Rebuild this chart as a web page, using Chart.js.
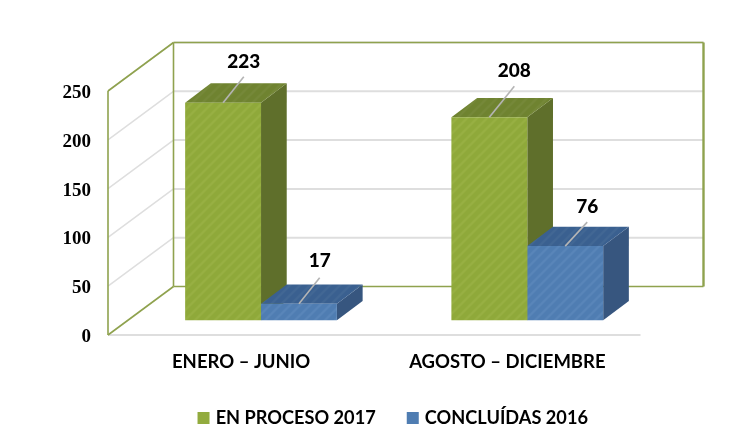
<!DOCTYPE html>
<html><head><meta charset="utf-8">
<style>html,body{margin:0;padding:0;background:#fff}#w{width:750px;height:448px;position:relative}canvas{filter:blur(0.3px)}</style>
<script src="https://cdn.jsdelivr.net/npm/chart.js@4"></script>
</head><body><div id="w"><canvas id="c" width="750" height="448"></canvas></div>
<script>
const categories = ['ENERO – JUNIO', 'AGOSTO – DICIEMBRE'];
const seriesNames = ['EN PROCESO 2017', 'CONCLUÍDAS 2016'];
const enProceso = [223, 208];
const concluidas = [17, 76];
const yMax = 250;
const yStep = 50;

const WALL = {dx: 65.5, dy: 48.5, rightTrim: 2.5};
const SHIFT = {dx: 19.9, dy: 14.7};
const DEPTH = {dx: 25.7, dy: 19.3};
const WALL_COLOR = '#8FA24E', GRID_COLOR = '#DEDEDE';
const PALETTE = [
  {front: '#8FA93A', stripe: '#98B044', side: '#5F6F2B', top: '#6F8330', topStripe: '#76893A', swatch: '#92AB3E'},
  {front: '#4F7DB2', stripe: '#5A86B9', side: '#37567F', top: '#3A6090', topStripe: '#436895', swatch: '#4F7DB2'}
];
const LEADERS = [
  [{dx: 20.7, dy: -26, ty: -40.6}, {dx: 20.7, dy: -26, ty: -42.5}],
  [{dx: 25, dy: -31, ty: -46}, {dx: 22, dy: -24, ty: -39}]
];

function stripes(base, line) {
  const t = document.createElement('canvas');
  t.width = t.height = 10;
  const g = t.getContext('2d');
  g.fillStyle = base; g.fillRect(0, 0, 10, 10);
  g.strokeStyle = line; g.lineWidth = 2.6;
  [[-2, 2, 2, -2], [-2, 12, 12, -2], [8, 12, 12, 8]].forEach(p => {
    g.beginPath(); g.moveTo(p[0], p[1]); g.lineTo(p[2], p[3]); g.stroke();
  });
  return document.getElementById('c').getContext('2d').createPattern(t, 'repeat');
}
function poly(ctx, pts, fill) {
  ctx.beginPath();
  pts.forEach((p, i) => i ? ctx.lineTo(p[0], p[1]) : ctx.moveTo(p[0], p[1]));
  ctx.closePath();
  ctx.fillStyle = fill; ctx.fill();
}
function seg(ctx, x1, y1, x2, y2, color, w) {
  ctx.beginPath(); ctx.moveTo(x1, y1); ctx.lineTo(x2, y2);
  ctx.strokeStyle = color; ctx.lineWidth = w; ctx.stroke();
}

const chart3d = {
  id: 'chart3d',
  afterLayout(chart) {
    const l = chart.legend;
    const sx = 74;
    l.left += sx; l.right += sx;
    const dy = 406 - (l.top + l.height / 2);
    l.top += dy; l.bottom += dy;
  },
  beforeDraw(chart) {
    chart.scales.y.getLabelItems(chart.chartArea).forEach(it => { it.textOffset += 2; });
  },
  beforeDatasetsDraw(chart) {
    const {ctx, chartArea: a, scales: {y}} = chart;
    const xr = a.right + WALL.dx - WALL.rightTrim, xb = a.left + WALL.dx;
    ctx.save();
    y.ticks.forEach(t => {
      if (t.value === 0) return;
      const py = y.getPixelForValue(t.value);
      seg(ctx, a.left, py, xb, py - WALL.dy, GRID_COLOR, 1.5);
      seg(ctx, xb, py - WALL.dy, xr, py - WALL.dy, GRID_COLOR, 2);
    });
    seg(ctx, a.left, a.bottom, a.right, a.bottom, GRID_COLOR, 2);
    seg(ctx, a.left, a.top, a.left, a.bottom, WALL_COLOR, 1.6);
    seg(ctx, a.left, a.top, xb, a.top - WALL.dy, WALL_COLOR, 1.6);
    seg(ctx, a.left, a.bottom, xb, a.bottom - WALL.dy, WALL_COLOR, 1.6);
    seg(ctx, xb, a.top - WALL.dy, xb, a.bottom - WALL.dy, WALL_COLOR, 1.6);
    seg(ctx, xb, a.top - WALL.dy, xr, a.top - WALL.dy, WALL_COLOR, 1.4);
    seg(ctx, xb, a.bottom - WALL.dy, xr, a.bottom - WALL.dy, WALL_COLOR, 1.6);
    seg(ctx, xr, a.top - WALL.dy, xr, a.bottom - WALL.dy, WALL_COLOR, 2.4);
    ctx.translate(SHIFT.dx, -SHIFT.dy);
    chart.data.datasets.forEach((ds, di) => {
      const pal = PALETTE[di];
      chart.getDatasetMeta(di).data.forEach(b => {
        const L = b.x - b.width / 2, R = b.x + b.width / 2;
        poly(ctx, [[R, b.y], [R + DEPTH.dx, b.y - DEPTH.dy], [R + DEPTH.dx, b.base - DEPTH.dy], [R, b.base]], pal.side);
        poly(ctx, [[L, b.y], [L + DEPTH.dx, b.y - DEPTH.dy], [R + DEPTH.dx, b.y - DEPTH.dy], [R, b.y]], pal.topPattern);
      });
    });
    ctx.restore();
    ctx.save();
    ctx.translate(SHIFT.dx, -SHIFT.dy);
  },
  afterDatasetsDraw(chart) {
    const {ctx} = chart;
    ctx.restore();
    ctx.save();
    ctx.font = '900 19px "Lato Black", Lato';
    ctx.textAlign = 'center';
    ctx.textBaseline = 'middle';
    chart.data.datasets.forEach((ds, di) => {
      chart.getDatasetMeta(di).data.forEach((b, i) => {
        const o = LEADERS[i][di];
        const x = b.x + SHIFT.dx, yy = b.y - SHIFT.dy;
        seg(ctx, x, yy, x + o.dx, yy + o.dy, '#B4B4B4', 1.6);
        ctx.fillStyle = '#000';
        ctx.fillText(String(ds.data[i]), x + o.dx, yy + o.ty);
      });
    });
    ctx.restore();
  }
};

PALETTE.forEach(p => { p.topPattern = stripes(p.top, p.topStripe); p.frontPattern = stripes(p.front, p.stripe); });

new Chart(document.getElementById('c'), {
  type: 'bar',
  data: {
    labels: categories,
    datasets: [
      {label: seriesNames[0], data: enProceso, backgroundColor: PALETTE[0].frontPattern},
      {label: seriesNames[1], data: concluidas, backgroundColor: PALETTE[1].frontPattern}
    ]
  },
  plugins: [chart3d],
  options: {
    responsive: false,
    animation: false,
    events: [],
    layout: {padding: {left: 0, right: 109.5, top: 91, bottom: 0}},
    datasets: {bar: {categoryPercentage: 0.57, barPercentage: 1, clip: false}},
    scales: {
      x: {
        grid: {display: false, drawTicks: false},
        border: {display: false},
        ticks: {padding: 16, color: '#000', maxRotation: 0, font: {family: 'Lato', weight: 'bold', size: 18.5}},
        afterFit(s) { s.height = 50.8; }
      },
      y: {
        min: 0, max: yMax,
        grid: {display: false, drawTicks: false},
        border: {display: false},
        ticks: {stepSize: yStep, padding: 17, color: '#000', font: {family: 'Liberation Serif', weight: 'bold', size: 19}},
        afterFit(s) { s.width = 108; }
      }
    },
    plugins: {
      tooltip: {enabled: false},
      legend: {
        position: 'bottom',
        labels: {
          boxWidth: 6, boxHeight: 6, padding: 34, color: '#000',
          font: {family: 'Lato', weight: 'bold', size: 18.2},
          generateLabels: () => seriesNames.map((n, i) => ({
            text: n, fillStyle: PALETTE[i].swatch, strokeStyle: PALETTE[i].swatch,
            lineWidth: 6, hidden: false, datasetIndex: i, fontColor: '#000'
          }))
        }
      }
    }
  }
});
</script></body></html>
